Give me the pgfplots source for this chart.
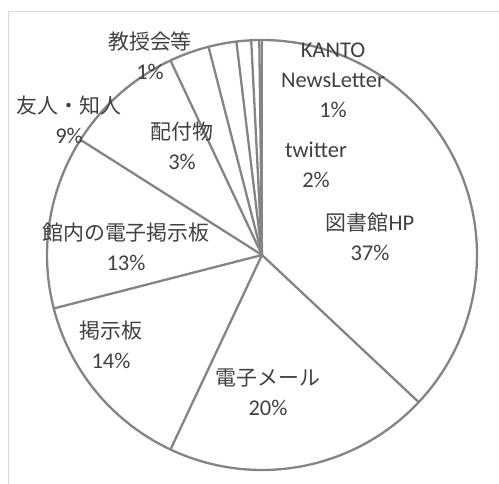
\documentclass[border=0pt]{standalone}
\usepackage{pgfplots}
\pgfplotsset{compat=1.18}
\usepackage{pgfplotstable}
\usepackage{fontspec}
\setmainfont{Carlito}
\newfontfamily\jp[Scale=0.93]{Noto Sans CJK JP}
\definecolor{lbl}{HTML}{404040}
\definecolor{edge}{HTML}{848484}
\definecolor{framec}{HTML}{D9D9D9}

% slice values (percent) and cumulative end, clockwise from 12 o'clock
\pgfplotstableread{
slice value cum
1 37   37
2 20   57
3 14   71
4 13   84
5 9    93
6 3    96
7 2.1  98.1
8 1.1  99.2
9 0.6  99.8
10 0.2 100
}\pie

\begin{document}
\begin{tikzpicture}[lab/.style={font=\fontsize{22.5}{30}\selectfont, text=lbl, align=center, inner sep=0pt}]
\begin{axis}[
  name=ax, at={(0,0)}, anchor=south west,
  scale only axis, width=499pt, height=484pt,
  xmin=0, xmax=499, ymin=0, ymax=484, y dir=reverse,
  hide axis, no markers,
]
% frame
\draw[framec, line width=1.3pt] (axis cs:8.5,484) -- (axis cs:8.5,11.5) -- (axis cs:499,11.5);
% outer circle
\addplot[edge, line width=2.3pt, domain=0:360, samples=241] ({262+215*sin(x)},{255-215*cos(x)});
% radial boundaries
\addplot[edge, line width=2.3pt, quiver={u={215*sin(3.6*\thisrow{cum})}, v={-215*cos(3.6*\thisrow{cum})}}]
  table[x expr=262, y expr=255] {\pie};
% labels
\node[lab] at (axis cs:150,56) {{\jp 教授会等}\\1\%};
\node[lab] at (axis cs:333,80) {KANTO\\NewsLetter\\1\%};
\node[lab] at (axis cs:316,165) {twitter\\2\%};
\node[lab] at (axis cs:370,237) {{\jp 図書館}HP\\37\%};
\node[lab] at (axis cs:182,146) {{\jp 配付物}\\3\%};
\node[lab] at (axis cs:69,120) {{\jp 友人・知人}\\9\%};
\node[lab] at (axis cs:126,247) {{\jp 館内の電子掲示板}\\13\%};
\node[lab] at (axis cs:111,345) {{\jp 掲示板}\\14\%};
\node[lab] at (axis cs:268,392) {{\jp 電子メール}\\20\%};
\end{axis}
\pgfresetboundingbox
\path[use as bounding box] (ax.south west) rectangle (ax.north east);
\end{tikzpicture}
\end{document}
